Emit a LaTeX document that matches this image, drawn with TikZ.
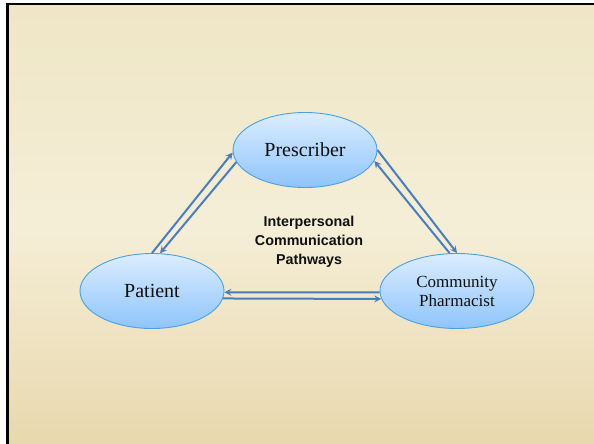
\documentclass[tikz,border=0pt]{standalone}
\usepackage{fontspec}
\setmainfont{Liberation Serif}
\setsansfont{Liberation Sans}
\usetikzlibrary{shapes.geometric,arrows.meta}
\definecolor{parchtop}{HTML}{EFE6C6}
\definecolor{parchmid}{HTML}{F5EED7}
\definecolor{parchbot}{HTML}{E8D8AE}
\definecolor{elltop}{HTML}{DCEDFF}
\definecolor{ellbot}{HTML}{8EC4FA}
\definecolor{ellline}{HTML}{4AA0E4}
\definecolor{arrowblue}{HTML}{4A7EBB}
\definecolor{txt}{HTML}{101010}
\tikzset{
  bubble/.style={ellipse, draw=ellline, line width=0.9pt, top color=elltop, bottom color=ellbot,
    inner sep=0pt, text=txt, align=center},
  link/.style={draw=arrowblue, line width=2pt, -{Stealth[length=7pt,width=7pt,inset=2.5pt]}},
}
\begin{document}
\begin{tikzpicture}[x=1pt,y=-1pt]
\useasboundingbox (0,0) rectangle (594,444);
\fill[white] (0,0) rectangle (594,444);
\fill[black] (6,3) rectangle (594,444);
\shade[top color=parchtop, bottom color=parchbot, middle color=parchmid] (9,6) rectangle (594,444);

\node[bubble, minimum width=144pt, minimum height=75pt, font=\fontsize{20}{22}\selectfont] (pres) at (305,150) {Prescriber};
\node[bubble, minimum width=144pt, minimum height=75pt, font=\fontsize{20}{22}\selectfont] (pat) at (152,291) {Patient};
\node[bubble, minimum width=154pt, minimum height=75pt, font=\fontsize{17}{19}\selectfont] (pharm) at (457,291) {Community\\Pharmacist};

\node[font=\sffamily\bfseries\fontsize{14.3}{19}\selectfont, align=center, text=txt] (label) at (309,242) {Interpersonal\\Communication\\Pathways};

% Patient <-> Prescriber
\draw[link] (pat.90) -- (pres.182);
\draw[link] (pres.190) -- (pat.78);
% Prescriber <-> Pharmacist
\draw[link] (pres.0) -- (pharm.90);
\draw[link] (pharm.101) -- (pres.-9);
% Pharmacist <-> Patient
\draw[link] (pharm.181.5) -- (pat.-1.5);
\draw[link] (pat.-6.3) -- (pharm.186);
\end{tikzpicture}
\end{document}
